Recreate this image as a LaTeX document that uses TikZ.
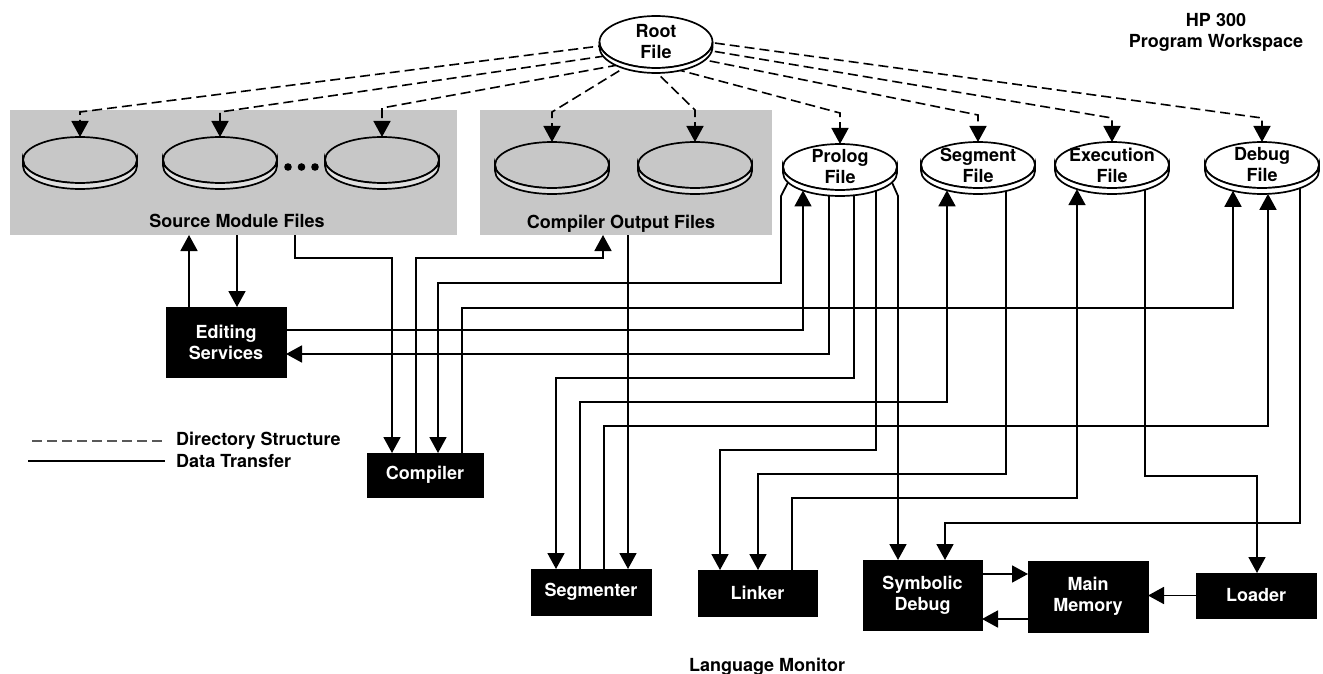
\documentclass[tikz,border=0pt]{standalone}
\usepackage{fontspec}
\setmainfont{TeX Gyre Heros}
\usetikzlibrary{arrows.meta,calc,shapes.geometric}
\pgfdeclarelayer{back}
\pgfdeclarelayer{wires}
\pgfsetlayers{back,wires,main}

\newcommand\hplabel{\fontsize{18}{21}\selectfont\bfseries}
% lower rim of a disk node: name, fill, x radius, y radius, thickness
\newcommand\diskrim[5]{%
  \path[rimline,fill=#2] (#1.west) -- ($(#1.west)+(0,#5)$)
    arc[start angle=180,end angle=0,x radius=#3,y radius=#4]
    -- (#1.east) arc[start angle=0,end angle=180,x radius=#3,y radius=#4] -- cycle;}

\tikzset{
  disk/.style={ellipse, draw, line width=1.7pt, inner sep=-8pt, outer sep=0pt,
    minimum width=114pt, minimum height=46pt, align=center},
  rimline/.style={draw, line width=1.7pt},
  region/.style={fill=black!22, inner sep=0pt, outer sep=0pt},
  hpbox/.style={rectangle, fill=black, draw=black, text=white, inner sep=0pt,
    outer sep=0pt, align=center},
  data/.style={line width=1.8pt},
  dir/.style={line width=1.6pt, dash pattern=on 10pt off 5pt},
  tip/.style={-{Triangle[length=16pt,width=17pt]}},
  txt/.style={inner sep=0pt, align=center}
}

\begin{document}
\begin{tikzpicture}[x=1pt,y=-1pt,font=\hplabel,
  declare function={rimy(\d)=6+23*sqrt(1-(\d/57)^2);}]
\useasboundingbox (0,0) rectangle (1323,674);

% shaded file groups
\begin{pgfonlayer}{back}
  \node[region, minimum width=447pt, minimum height=125pt] (srcgrp) at (233.5,172.5) {};
  \node[region, minimum width=292pt, minimum height=125pt] (cogrp) at (626,172.5) {};
\end{pgfonlayer}

% root directory
\node[disk, fill=white, minimum width=113pt, minimum height=52pt] (root) at (656,42) {Root\\File};
\diskrim{root}{white}{56.5}{26}{5}

% source module and compiler output disks
\node[disk] (s1) at (80,160) {};
\node[disk] (s2) at (220,160) {};
\node[disk] (s3) at (382,160) {};
\node[disk] (c1) at (552,165) {};
\node[disk] (c2) at (695,165) {};
\foreach \d in {s1,s2,s3,c1,c2}{\diskrim{\d}{black!12}{57}{23}{6}}
\foreach \x in {288,301.5,315}{\fill (\x,167) circle[radius=3.8];}

% named files
\node[disk, fill=white] (prolog) at (840,167) {Prolog\\File};
\node[disk, fill=white] (segment) at (978,165) {Segment\\File};
\node[disk, fill=white] (exec) at (1112,165) {Execution\\File};
\node[disk, fill=white] (debug) at (1262,165) {Debug\\File};
\foreach \d in {prolog,segment,exec,debug}{\diskrim{\d}{white}{57}{23}{6}}

% processes
\node[hpbox, minimum width=120pt, minimum height=70pt] (editing) at (226,342) {Editing\\Services};
\node[hpbox, minimum width=116pt, minimum height=44pt] (compiler) at (425,475) {Compiler};
\node[hpbox, minimum width=120pt, minimum height=46pt] (segmenter) at (591,592) {Segmenter};
\node[hpbox, minimum width=119pt, minimum height=46pt] (linker) at (757.5,593) {Linker};
\node[hpbox, minimum width=119pt, minimum height=70pt] (symdebug) at (922.5,595) {Symbolic\\Debug};
\node[hpbox, minimum width=120pt, minimum height=71pt] (mainmem) at (1088,596.5) {Main\\Memory};
\node[hpbox, minimum width=120pt, minimum height=45pt] (loader) at (1256,595.5) {Loader};

% labels
\node[txt, anchor=north] (ws) at (1216,13.5) {HP 300\\Program Workspace};
\node[txt, anchor=base] (srclbl) at (237,227.5) {Source Module Files};
\node[txt, anchor=base] (colbl) at (621,228) {Compiler Output Files};
\node[txt, anchor=base] (lm) at (767,671.5) {Language Monitor};
\node[txt, anchor=base west] (legdir) at (176,445.7) {Directory Structure};
\node[txt, anchor=base west] (legdata) at (176,467.3) {Data Transfer};

\begin{pgfonlayer}{wires}
  % directory structure
  \foreach \t/\sx/\sy/\h in {s1/-48/3/25, s2/-51/14/25, s3/-38/23/29, c1/-24/21/30,
      c2/-6/24/32, prolog/19/27/31, segment/39/16/27, exec/44/7/24, debug/44/-1/24}
    \draw[dir,tip] ($(root.center)+(\sx,\sy)$) -- ($(\t.north)+(0,-\h)$) -- (\t.north);

  % data transfer
  \coordinate (edup) at ($(editing.north)+(-37,0)$);
  \coordinate (eddn) at ($(editing.north)+(11,0)$);
  \draw[data,tip] (edup) -- (edup |- srcgrp.south);
  \draw[data,tip] (eddn |- srcgrp.south) -- (eddn);
  \draw[data,tip] ($(srcgrp.south)+(61.5,0)$) -- ++(0,23) -| ($(compiler.north)+(-33,0)$);
  \draw[data,tip] ($(compiler.north)+(-9,0)$) -- ++(0,-195) -| ($(cogrp.south)+(-23,0)$);
  \draw[data,tip] ($(prolog.center)+(-52,{rimy(-52)})$) -- ($(prolog.center)+(-59,29)$)
    -- ++(0,87) -| ($(compiler.north)+(13,0)$);
  \draw[data,tip] ($(compiler.north)+(37,0)$) -- ++(0,-145) -| ($(debug.center)+(-29,{rimy(-29)})$);
  \draw[data,tip] ($(editing.east)+(0,-12)$) -| ($(prolog.center)+(-37,{rimy(-37)})$);
  \draw[data,tip] ($(prolog.center)+(-11,{rimy(-11)})$) |- ($(editing.east)+(0,12)$);
  \draw[data,tip] ($(prolog.center)+(14,{rimy(14)})$) -- ++(0,182.7) -| ($(segmenter.north)+(-35,0)$);
  \draw[data,tip] ($(segmenter.north)+(-11,0)$) -- ++(0,-167) -| ($(segment.center)+(-31,{rimy(-31)})$);
  \draw[data,tip] ($(segmenter.north)+(13,0)$) -- ++(0,-143) -| ($(debug.center)+(6,{rimy(6)})$);
  \draw[data,tip] ($(cogrp.south)+(2,0)$) -- ($(segmenter.north)+(37,0)$);
  \draw[data,tip] ($(prolog.center)+(36,{rimy(36)})$) -- ++(0,259.17) -| ($(linker.north)+(-37.5,0)$);
  \draw[data,tip] ($(segment.center)+(28,{rimy(28)})$) -- ++(0,282.97) -| ($(linker.north)+(0.5,0)$);
  \draw[data,tip] ($(linker.north)+(34.5,0)$) -- ++(0,-72) -| ($(exec.center)+(-35,{rimy(-35)})$);
  \draw[data,tip] ($(exec.center)+(33,{rimy(33)})$) -- ++(0,286.25) -| ($(loader.north)+(1,0)$);
  \draw[data,tip] ($(debug.center)+(38,{rimy(38)})$) -- ++(0,334.86) -| ($(symdebug.north)+(22.5,0)$);
  \draw[data,tip] ($(prolog.center)+(52,{rimy(52)})$) -- ($(prolog.center)+(58,29)$) coordinate (plsd)
    -- (plsd |- symdebug.north);
  \coordinate (sm) at ($(symdebug.east)+(0,-21)$);
  \coordinate (ms) at ($(mainmem.west)+(0,22.5)$);
  \draw[data,tip] (sm) -- (sm -| mainmem.west);
  \draw[data,tip] (ms) -- (ms -| symdebug.east);
  \draw[data,tip] (loader.west) -- (loader.west -| mainmem.east);

  % legend
  \draw[dir, line width=1.2pt, black!65] ($(legdir.west)+(-144,0)$) -- ($(legdir.west)+(-13,0)$);
  \draw[data, line width=1.4pt] ($(legdata.west)+(-148,0)$) -- ($(legdata.west)+(-11,0)$);
\end{pgfonlayer}
\end{tikzpicture}
\end{document}
